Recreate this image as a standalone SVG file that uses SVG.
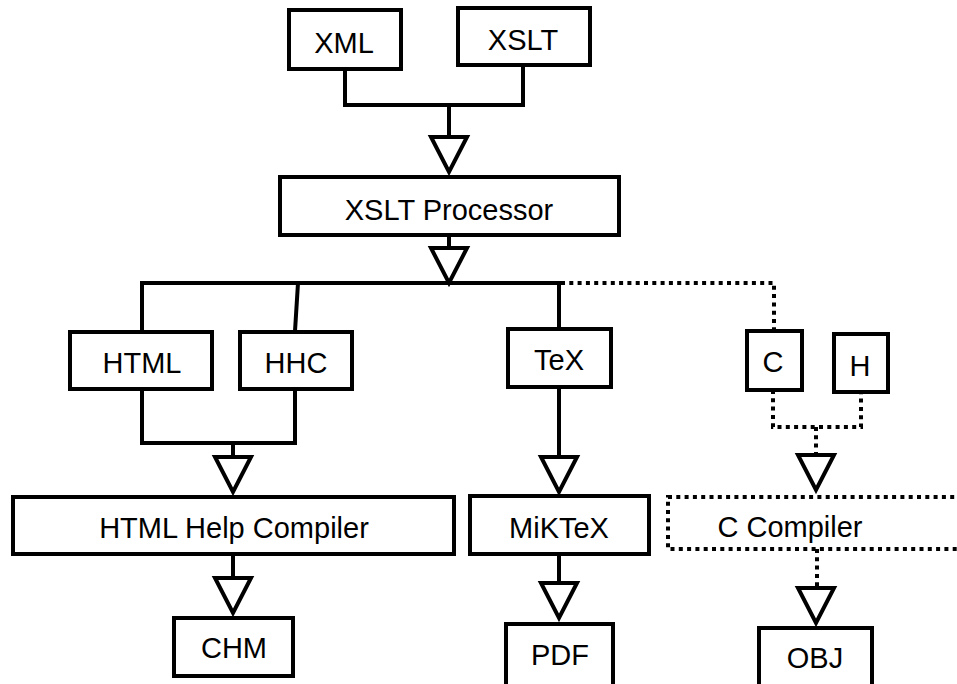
<svg xmlns="http://www.w3.org/2000/svg" width="957" height="684" viewBox="0 0 957 684">
<style>
  .box { fill: #ffffff; stroke: #000000; stroke-width: 4; }
  .dbox { fill: #ffffff; stroke: #000000; stroke-width: 4; stroke-dasharray: 4 4.3; }
  .ln { fill: none; stroke: #000000; stroke-width: 4; }
  .dl { fill: none; stroke: #000000; stroke-width: 4; stroke-dasharray: 4 4.3; }
  .tri { fill: #ffffff; stroke: #000000; stroke-width: 4; stroke-linejoin: miter; }
  text { font-family: "Liberation Sans", Arial, sans-serif; font-size: 29px; fill: #000000; text-anchor: middle; }
</style>
<defs>
  <path id="arrow" class="tri" d="M -18 -35 L 18 -35 L 0 0 Z"/>
</defs>
<rect width="957" height="684" fill="#ffffff"/>
<g id="connectors">
  <path class="ln" d="M 345 69 V 105 H 523 V 65"/>
  <path class="ln" d="M 449 105 V 137"/>
  <path class="ln" d="M 449 235 V 248"/>
  <path class="ln" d="M 142 331 V 283 H 559 V 329"/>
  <path class="ln" d="M 298 283 L 295 331"/>
  <path class="dl" d="M 561 283 H 774 V 330"/>
  <path class="ln" d="M 142 389 V 443 H 295 V 389"/>
  <path class="ln" d="M 233 443 V 457"/>
  <path class="ln" d="M 233 554 V 578"/>
  <path class="ln" d="M 559 387 V 457"/>
  <path class="ln" d="M 559 554 V 583"/>
  <path class="dl" d="M 773 390 V 427 H 861 V 392"/>
  <path class="dl" d="M 816 427 V 455"/>
  <path class="dl" d="M 817 549 V 588"/>
  <use href="#arrow" x="449" y="172"/>
  <use href="#arrow" x="449" y="283"/>
  <use href="#arrow" x="233" y="492"/>
  <use href="#arrow" x="233" y="613"/>
  <use href="#arrow" x="559" y="492"/>
  <use href="#arrow" x="559" y="618"/>
  <use href="#arrow" x="816" y="490"/>
  <use href="#arrow" x="816" y="623"/>
</g>
<g id="xml"><rect class="box" x="289" y="10" width="112" height="59"/><text x="344" y="53">XML</text></g>
<g id="xslt"><rect class="box" x="458" y="8" width="132" height="57"/><text x="523" y="50">XSLT</text></g>
<g id="xslt-processor"><rect class="box" x="280" y="177" width="339" height="58"/><text x="449" y="220">XSLT Processor</text></g>
<g id="html"><rect class="box" x="70" y="332" width="142" height="57"/><text x="142" y="373">HTML</text></g>
<g id="hhc"><rect class="box" x="240" y="332" width="112" height="57"/><text x="296" y="373">HHC</text></g>
<g id="tex"><rect class="box" x="508" y="329" width="103" height="58"/><text x="559" y="370">TeX</text></g>
<g id="c"><rect class="box" x="747" y="331" width="55" height="59"/><text x="773" y="372">C</text></g>
<g id="h"><rect class="box" x="834" y="334" width="54" height="58"/><text x="860" y="376">H</text></g>
<g id="html-help-compiler"><rect class="box" x="13" y="497" width="441" height="57"/><text x="234" y="538">HTML Help Compiler</text></g>
<g id="miktex"><rect class="box" x="470" y="496" width="179" height="58"/><text x="559" y="538">MiKTeX</text></g>
<g id="c-compiler"><rect class="dbox" x="668" y="497" width="330" height="52"/><text x="790" y="537">C Compiler</text></g>
<g id="chm"><rect class="box" x="174" y="618" width="119" height="58"/><text x="234" y="658">CHM</text></g>
<g id="pdf"><rect class="box" x="506" y="624" width="107" height="80"/><text x="560" y="665">PDF</text></g>
<g id="obj"><rect class="box" x="759" y="628" width="113" height="80"/><text x="815" y="668">OBJ</text></g>
</svg>
